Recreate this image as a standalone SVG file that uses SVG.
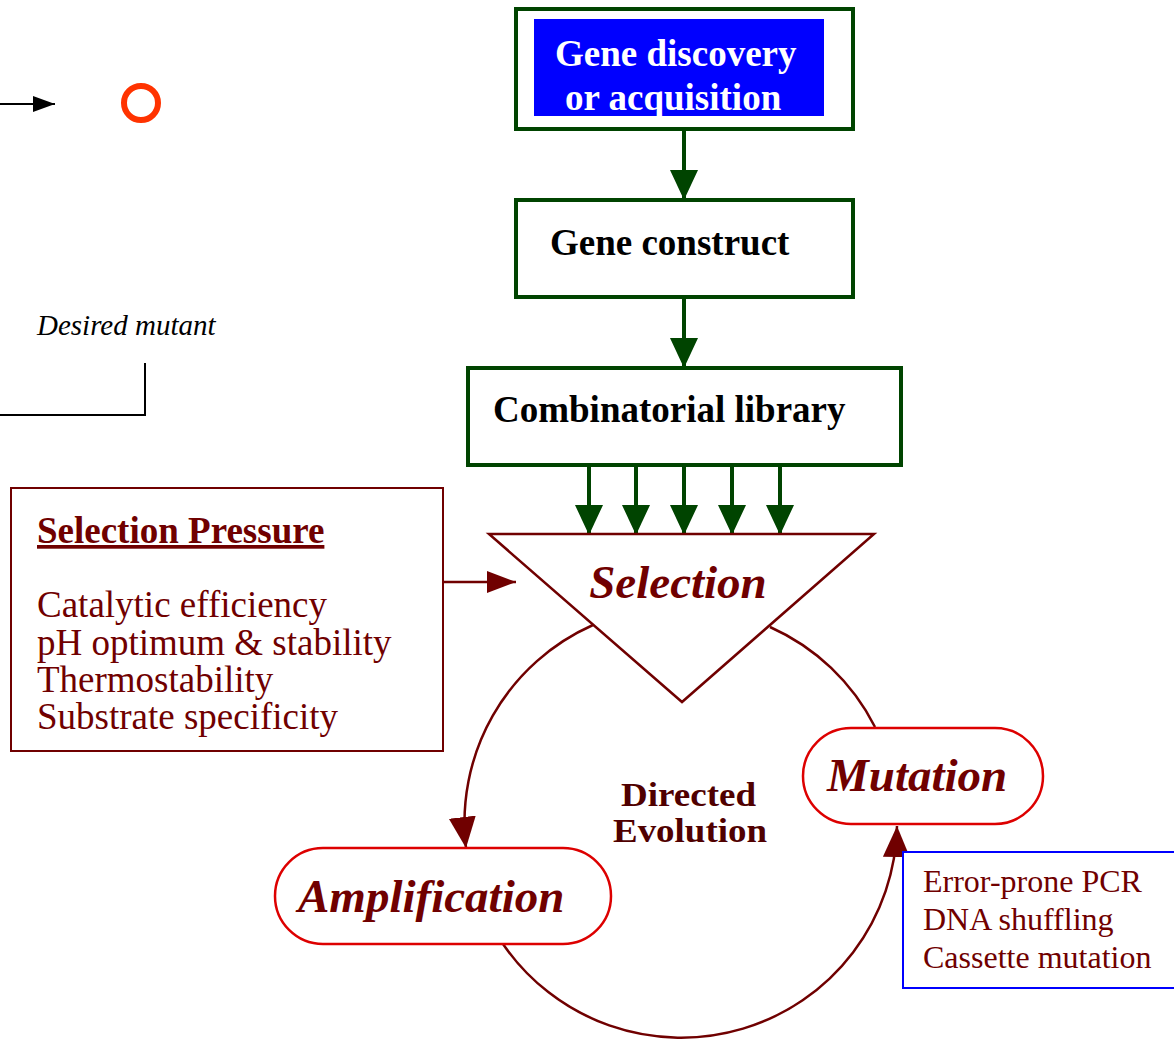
<svg xmlns="http://www.w3.org/2000/svg" width="1174" height="1041" viewBox="0 0 1174 1041">
  <style>
    .box { fill: #fff; stroke: #004400; stroke-width: 4; }
    .green { stroke: #004400; stroke-width: 4; fill: none; }
    .dred { stroke: #700000; stroke-width: 2.5; fill: none; }
    .pill { fill: #fff; stroke: #dd0000; stroke-width: 2.5; }
    .serif { font-family: "Liberation Serif", "Times New Roman", serif; }
    .head { font-weight: bold; font-size: 37px; fill: #000; }
    .stage { font-weight: bold; font-style: italic; font-size: 47px; fill: #700000; }
    .plain { font-size: 37px; fill: #700000; }
    .method { font-size: 32px; fill: #700000; }
    .core { font-size: 33px; font-weight: bold; fill: #500000; }
  </style>
  <defs>
    <marker id="arrGreen" markerUnits="userSpaceOnUse" markerWidth="30" markerHeight="28" refX="30" refY="14" orient="auto">
      <path d="M0,0 L30,14 L0,28 Z" fill="#004400"/>
    </marker>
    <marker id="arrRed" markerUnits="userSpaceOnUse" markerWidth="31" markerHeight="27" refX="31" refY="13.5" orient="auto">
      <path d="M0,0 L31,13.5 L0,27 Z" fill="#700000"/>
    </marker>
    <marker id="arrRedSmall" markerUnits="userSpaceOnUse" markerWidth="29" markerHeight="22" refX="29" refY="11" orient="auto">
      <path d="M0,0 L29,11 L0,22 Z" fill="#700000"/>
    </marker>
    <marker id="arrBlack" markerUnits="userSpaceOnUse" markerWidth="22" markerHeight="16" refX="22" refY="8" orient="auto">
      <path d="M0,0 L22,8 L0,16 Z" fill="#000"/>
    </marker>
  </defs>

  <!-- legend fragments at the left edge -->
  <g id="legend">
    <line x1="0" y1="104" x2="55" y2="104" stroke="#000" stroke-width="2" marker-end="url(#arrBlack)"/>
    <circle cx="141" cy="103" r="17" fill="none" stroke="#ff3300" stroke-width="6"/>
    <text class="serif" x="37" y="335" font-size="29" font-style="italic" fill="#000">Desired mutant</text>
    <polyline points="0,415 145,415 145,363" fill="none" stroke="#000" stroke-width="2"/>
  </g>

  <!-- connectors -->
  <g id="connectors">
    <line class="green" x1="684" y1="129" x2="684" y2="200" marker-end="url(#arrGreen)"/>
    <line class="green" x1="684" y1="297" x2="684" y2="368" marker-end="url(#arrGreen)"/>
    <line class="green" x1="589" y1="465" x2="589" y2="535" marker-end="url(#arrGreen)"/>
    <line class="green" x1="636" y1="465" x2="636" y2="535" marker-end="url(#arrGreen)"/>
    <line class="green" x1="684" y1="465" x2="684" y2="535" marker-end="url(#arrGreen)"/>
    <line class="green" x1="732" y1="465" x2="732" y2="535" marker-end="url(#arrGreen)"/>
    <line class="green" x1="780" y1="465" x2="780" y2="535" marker-end="url(#arrGreen)"/>
    <line class="dred" x1="443" y1="582" x2="516" y2="582" marker-end="url(#arrRedSmall)"/>
    <!-- evolution cycle arcs -->
    <path class="dred" d="M 593 625 A 216 216 0 0 0 466 848" marker-end="url(#arrRed)"/>
    <path class="dred" d="M 503 944 A 216 216 0 0 0 897 826" marker-end="url(#arrRed)"/>
    <path class="dred" d="M 875 727 A 216 216 0 0 0 770 627"/>
  </g>

  <g id="gene-discovery">
    <rect class="box" x="516" y="9" width="337" height="120"/>
    <rect x="534" y="19" width="290" height="97" fill="#0000ff"/>
    <text class="serif head" x="555" y="66" style="fill:#fff">Gene discovery</text>
    <text class="serif head" x="565" y="110" style="fill:#fff">or acquisition</text>
  </g>

  <g id="gene-construct">
    <rect class="box" x="516" y="200" width="337" height="97"/>
    <text class="serif head" x="550" y="255">Gene construct</text>
  </g>

  <g id="combinatorial-library">
    <rect class="box" x="468" y="368" width="433" height="97"/>
    <text class="serif head" x="493" y="422">Combinatorial library</text>
  </g>

  <g id="selection">
    <polygon points="489,534 874,534 682,702" fill="#fff" stroke="#700000" stroke-width="2.5"/>
    <text class="serif stage" x="678" y="598" text-anchor="middle">Selection</text>
  </g>

  <g id="selection-pressure">
    <rect x="11" y="488" width="432" height="263" fill="#fff" stroke="#700000" stroke-width="2"/>
    <text class="serif" x="37" y="543" font-size="37" font-weight="bold" fill="#700000" text-decoration="underline">Selection Pressure</text>
    <text class="serif plain" x="37" y="617">Catalytic efficiency</text>
    <text class="serif plain" x="37" y="655">pH optimum &amp; stability</text>
    <text class="serif plain" x="37" y="692">Thermostability</text>
    <text class="serif plain" x="37" y="729">Substrate specificity</text>
  </g>

  <g id="amplification">
    <rect class="pill" x="275" y="848" width="336" height="96" rx="48" ry="48"/>
    <text class="serif stage" x="298" y="912">Amplification</text>
  </g>

  <g id="mutation">
    <rect class="pill" x="803" y="728" width="240" height="96" rx="48" ry="48"/>
    <text class="serif stage" x="827" y="791">Mutation</text>
  </g>

  <g id="directed-evolution">
    <text class="serif core" x="621" y="806" textLength="135" lengthAdjust="spacingAndGlyphs">Directed</text>
    <text class="serif core" x="613" y="842" textLength="154" lengthAdjust="spacingAndGlyphs">Evolution</text>
  </g>

  <g id="mutation-methods">
    <rect x="903" y="852" width="275" height="136" fill="#fff" stroke="#0000ff" stroke-width="2"/>
    <text class="serif method" x="923" y="892">Error-prone PCR</text>
    <text class="serif method" x="923" y="930">DNA shuffling</text>
    <text class="serif method" x="923" y="968">Cassette mutation</text>
  </g>
</svg>
